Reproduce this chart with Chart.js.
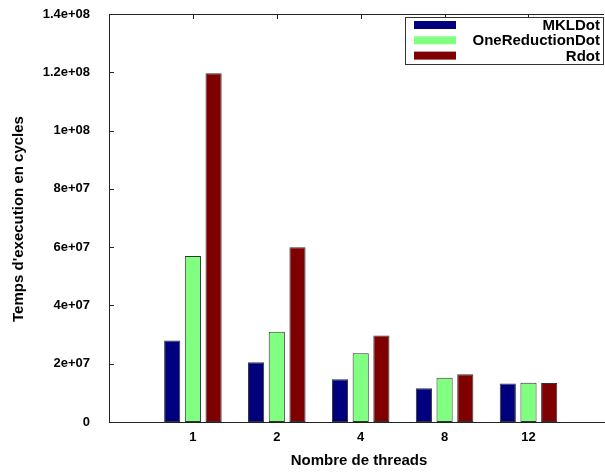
<!DOCTYPE html>
<html>
<head>
<meta charset="utf-8">
<script src="https://cdn.jsdelivr.net/npm/chart.js@4"></script>
<style>
  html, body { margin: 0; padding: 0; background: #fff; }
  #wrap { width: 605px; height: 473px; }
</style>
</head>
<body>
<div id="wrap"><canvas id="chart" width="605" height="473"></canvas></div>
<script>
// --- Donnees ---
const threads = ['1', '2', '4', '8', '12'];
const mklDot = [2.8e7, 2.05e7, 1.47e7, 1.16e7, 1.32e7];
const oneReductionDot = [5.7e7, 3.1e7, 2.36e7, 1.52e7, 1.35e7];
const rDot = [1.197e8, 6.0e7, 2.97e7, 1.64e7, 1.34e7];
const yTicks = [0, 2e7, 4e7, 6e7, 8e7, 1e8, 1.2e8, 1.4e8];

const FAMILY = '"Liberation Sans", Arial, sans-serif';
const TITLE_FONT = 'bold 15px ' + FAMILY;

// format gnuplot "%g" : 2e+07, 1.2e+08 ...
function fmtG(v) {
    if (v === 0) return '0';
    return v.toExponential().replace(/e\+(\d)$/, 'e+0$1');
}

function toPoints(arr) {
    return arr.map((v, i) => ({ x: i, y: v }));
}

// Cadre, ticks internes, titres et legende facon gnuplot
const gnuplotDecor = {
    id: 'gnuplotDecor',
    afterDatasetsDraw(chart) {
        const ctx = chart.ctx;
        const a = chart.chartArea;
        const xs = chart.scales.x, ys = chart.scales.y;
        ctx.save();
        ctx.strokeStyle = '#222';
        ctx.lineWidth = 1;

        // bordure du haut
        ctx.beginPath();
        ctx.moveTo(a.left, a.top + 0.5);
        ctx.lineTo(a.right, a.top + 0.5);
        ctx.stroke();

        // ticks axe y (vers l'interieur)
        yTicks.forEach(function (v) {
            const y = Math.round(ys.getPixelForValue(v)) + 0.5;
            ctx.beginPath();
            ctx.moveTo(a.left, y);
            ctx.lineTo(a.left + 5, y);
            ctx.stroke();
        });
        // ticks miroir sur la bordure du haut
        threads.forEach(function (t, i) {
            const x = Math.round(xs.getPixelForValue(i)) + 0.5;
            ctx.beginPath();
            ctx.moveTo(x, a.top);
            ctx.lineTo(x, a.top + 5);
            ctx.stroke();
        });

        // titres des axes
        ctx.fillStyle = '#000';
        ctx.font = TITLE_FONT;
        ctx.textAlign = 'center';
        ctx.textBaseline = 'middle';
        ctx.fillText('Nombre de threads', 359, 461);
        ctx.translate(19, 219);
        ctx.rotate(-Math.PI / 2);
        ctx.fillText("Temps d'execution en cycles", 0, 0);
        ctx.setTransform(1, 0, 0, 1, 0, 0);

        // legende
        const box = { l: 405, t: 17, r: 603, b: 64 };
        ctx.fillStyle = '#fff';
        ctx.fillRect(box.l, box.t, box.r - box.l, box.b - box.t);
        ctx.strokeStyle = '#333';
        ctx.strokeRect(box.l + 0.5, box.t + 0.5, box.r - box.l, box.b - box.t);
        chart.data.datasets.forEach(function (ds, i) {
            const cy = 25 + i * 15.3;
            ctx.fillStyle = ds.backgroundColor;
            ctx.fillRect(414, cy - 4, 42, 8);
            ctx.fillStyle = '#000';
            ctx.textAlign = 'right';
            ctx.fillText(ds.label, 600, cy + 1);
        });
        ctx.restore();
    }
};

const barStyle = {
    borderColor: '#333',
    borderWidth: 1,
    borderSkipped: false,
    categoryPercentage: 0.74,
    barPercentage: 0.78
};

new Chart(document.getElementById('chart'), {
    type: 'bar',
    data: {
        datasets: [
            Object.assign({ label: 'MKLDot', data: toPoints(mklDot), backgroundColor: '#00007f' }, barStyle),
            Object.assign({ label: 'OneReductionDot', data: toPoints(oneReductionDot), backgroundColor: '#80ff80' }, barStyle),
            Object.assign({ label: 'Rdot', data: toPoints(rDot), backgroundColor: '#7f0000' }, barStyle)
        ]
    },
    options: {
        responsive: false,
        animation: false,
        layout: { padding: { top: 14, right: 1, left: 0, bottom: 0 } },
        plugins: {
            legend: { display: false },
            tooltip: { enabled: false }
        },
        scales: {
            x: {
                type: 'linear',
                offset: false,
                min: -1,
                max: 4.9,
                afterBuildTicks: function (scale) {
                    scale.ticks = threads.map((t, i) => ({ value: i }));
                },
                afterFit: function (scale) {
                    scale.height = 51;
                    scale.paddingLeft = 0;
                    scale.paddingRight = 0;
                },
                ticks: {
                    color: '#000',
                    font: { family: FAMILY, size: 13, weight: 'bold' },
                    padding: 8,
                    maxRotation: 0,
                    callback: function (v) { return threads[v]; }
                },
                grid: { display: false, drawTicks: false },
                border: { display: true, color: '#222', width: 1 }
            },
            y: {
                min: 0,
                max: 1.4e8,
                afterBuildTicks: function (scale) {
                    scale.ticks = yTicks.map(v => ({ value: v }));
                },
                afterFit: function (scale) {
                    scale.width = 109;
                    scale.paddingTop = 0;
                    scale.paddingBottom = 0;
                },
                ticks: {
                    color: '#000',
                    font: { family: FAMILY, size: 13, weight: 'bold' },
                    padding: 19,
                    callback: function (v) { return fmtG(v); }
                },
                grid: { display: false, drawTicks: false },
                border: { display: true, color: '#222', width: 1 }
            }
        }
    },
    plugins: [gnuplotDecor]
});
</script>
</body>
</html>
